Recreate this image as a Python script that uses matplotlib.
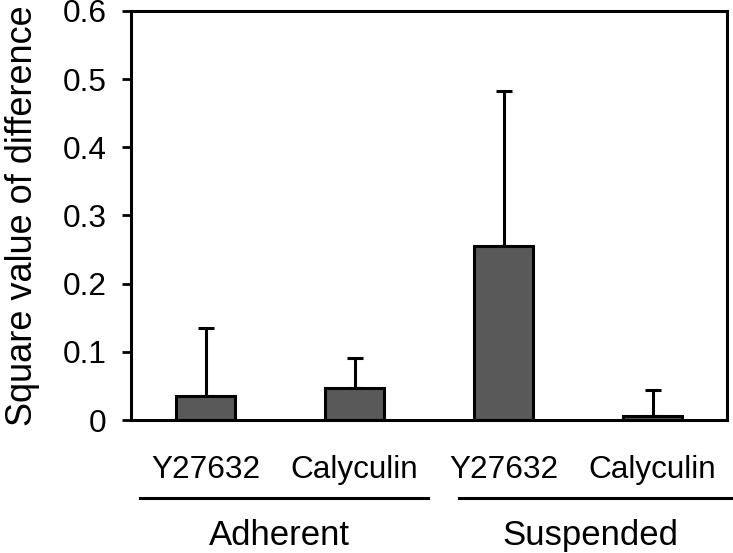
import numpy as np
import matplotlib
matplotlib.use('Agg')
import matplotlib.pyplot as plt
import matplotlib.transforms as mtransforms

# Dati
categories = ['Y27632', 'Calyculin', 'Y27632', 'Calyculin']
groups = ['Adherent', 'Suspended']
values = [0.035, 0.047, 0.255, 0.006]
errors = [0.100, 0.044, 0.228, 0.038]
y_ticks = [0, 0.1, 0.2, 0.3, 0.4, 0.5, 0.6]
y_tick_labels = ['0', '0.1', '0.2', '0.3', '0.4', '0.5', '0.6']

plt.rcParams['font.family'] = ['Liberation Sans', 'DejaVu Sans']

fig = plt.figure(figsize=(7.33, 5.53), dpi=100)
ax = fig.add_axes([131 / 733, 1 - 420 / 553, 596 / 733, 409 / 553])

x = np.arange(len(categories))
lower = np.zeros(len(errors))
ax.bar(x, values, width=0.40, color='#595959', edgecolor='black', linewidth=2.2, zorder=2)
ax.errorbar(x, values, yerr=[lower, errors], fmt='none', ecolor='black',
            elinewidth=2.2, capsize=5.8, capthick=2.2, zorder=1)

ax.set_xlim(-0.5, len(categories) - 0.5)
ax.set_ylim(0, 0.6)
ax.set_yticks(y_ticks)
ax.set_yticklabels(y_tick_labels)
ax.set_xticks(x)
ax.set_xticklabels(categories)
ax.tick_params(axis='y', direction='out', length=6.5, width=2, pad=11, labelsize=22.7)
ax.tick_params(axis='x', length=0, pad=25, labelsize=22.7)
for s in ax.spines.values():
    s.set_linewidth(2.2)

ax.set_ylabel('Square value of difference', fontsize=26)
ax.yaxis.set_label_coords(-0.153, 0.5)

# Linee e etichette dei gruppi
trans = mtransforms.blended_transform_factory(ax.transData, ax.transAxes)
group_spans = [(-0.44, 1.49), (1.70, 3.53)]
for name, (x0, x1) in zip(groups, group_spans):
    ax.plot([x0, x1], [-0.191, -0.191], color='black', linewidth=2.2,
            transform=trans, clip_on=False)
    ax.text((x0 + x1) / 2 - 0.03, -0.282, name, transform=trans, fontsize=25,
            ha='center', va='center')

fig.savefig('out.png', dpi=100)
